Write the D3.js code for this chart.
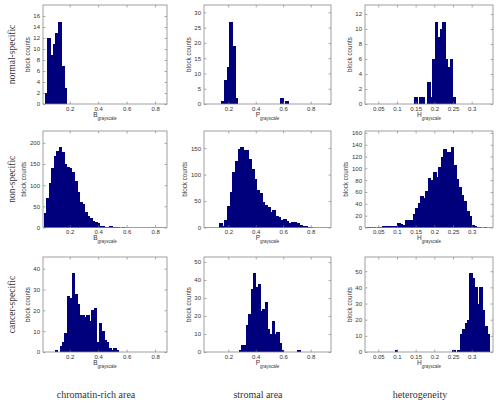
<!DOCTYPE html>
<html>
<head>
<meta charset="utf-8">
<script src="https://cdn.jsdelivr.net/npm/d3@7"></script>
<style>
  body { margin: 0; background: #fff; }
  svg { display: block; }
  .tick text { font-family: "Liberation Sans", Arial, sans-serif; font-size: 6px; fill: #333; }
  .tick line { stroke: #777; stroke-width: 0.6; }
  .ylab, .xlab { font-family: "Liberation Sans", Arial, sans-serif; fill: #333; }
  .rowlab, .collab { font-family: "Liberation Serif", "DejaVu Serif", serif; fill: #333; }
  .bar { shape-rendering: crispEdges; }
</style>
</head>
<body>
<div id="chart"></div>
<script>
// labels
var rowNames = ["normal-specific", "non-specific", "cancer-specific"];
var colNames = ["chromatin-rich area", "stromal area", "heterogeneity"];
var xSymbols = ["B", "P", "H"];

// tick labels per column / y tick step per panel
var xTicks = [[0.2, 0.4, 0.6, 0.8], [0.2, 0.4, 0.6, 0.8], [0.05, 0.1, 0.15, 0.2, 0.25, 0.3]];
var yTickSteps = [[2, 5, 2], [50, 50, 20], [10, 10, 10]];
var xDomains = [[0.012, 0.884], [0.023, 0.948], [0.0145, 0.357]];

// histogram bins: first bin edge, bin width, counts
var binStart = [[0.0235, 0.148, 0.1464], [0.0188, 0.132, 0.0196], [0.094, 0.278, 0.0946]];
var binWidth = [[0.019, 0.0195, 0.0068], [0.0176, 0.0194, 0.0068], [0.0172, 0.017, 0.00665]];

var countsNormalB = [2, 12, 9, 11, 13, 15, 7, 3];
var countsNormalP = [1, 8, 12, 27, 19, 2, 0, 0, 0, 0, 0, 0, 0, 0, 0, 0, 0, 0, 0, 0, 0, 0, 2, 0, 1];
var countsNormalH = [1, 0, 1, 1, 0, 3, 1, 6, 11, 9, 10, 11, 6, 5, 6, 1];

var countsNonB = [35, 70, 105, 140, 170, 180, 190, 178, 150, 142, 140, 132, 110, 85, 60, 55, 37, 28, 22, 16,
                  12, 10, 4, 3, 2, 2, 3, 2, 1, 1, 0, 1];
var countsNonP = [8, 3, 14, 40, 68, 105, 125, 148, 152, 146, 147, 130, 110, 92, 70, 65, 48, 42, 38, 30,
                  34, 22, 20, 15, 17, 13, 8, 10, 10, 8, 5, 3, 2, 1, 1];
var countsNonH = [1, 1, 1, 0, 1, 1, 3, 2, 3, 2, 3, 2, 7, 6, 5, 12, 13, 12, 23, 33, 42, 54, 50, 62, 83, 80,
                  94, 85, 102, 120, 132, 127, 128, 136, 105, 82, 68, 55, 44, 28, 20, 5, 2, 1, 1, 0, 1];

var countsCancerB = [1, 0, 3, 5, 9, 27, 26, 38, 28, 23, 18, 18, 17, 18, 15, 20, 21, 5, 14, 10, 6, 5, 2, 1, 2, 1];
var countsCancerP = [1, 4, 4, 15, 21, 35, 44, 36, 38, 23, 24, 28, 13, 10, 17, 10, 11, 5, 1, 0, 0, 0, 0, 0, 0, 1];
var countsCancerH = [1, 0, 0, 0, 0, 0, 0, 0, 0, 0, 0, 0, 0, 0, 0, 0, 0, 0, 0, 0, 0, 0, 0, 1, 0, 1,
                     11, 14, 18, 20, 49, 46, 40, 30, 40, 26, 16, 11];

var counts = [
  [countsNormalB, countsNormalP, countsNormalH],
  [countsNonB, countsNonP, countsNonH],
  [countsCancerB, countsCancerP, countsCancerH]
];

// layout
var width = 496, height = 405;
var colBox = [[43, 167], [204, 331], [365, 493]];
var rowBox = [[5, 104], [131, 227.5], [257, 352]];
var barColor = "#00007c";
var tickLen = 2.5;

var svg = d3.select("#chart").append("svg")
  .attr("width", width)
  .attr("height", height);

function drawPanel(r, c) {
  var data = counts[r][c].map(function(v, i) {
    return {x0: binStart[r][c] + i * binWidth[r][c], x1: binStart[r][c] + (i + 1) * binWidth[r][c], n: v};
  });
  var left = colBox[c][0], right = colBox[c][1];
  var top = rowBox[r][0], bottom = rowBox[r][1];

  var x = d3.scaleLinear().domain(xDomains[c]).range([left, right]);
  var yMax = 1.2 * d3.max(data, function(d) { return d.n; });
  var y = d3.scaleLinear().domain([0, yMax]).range([bottom, top]);
  var yt = d3.range(0, yMax, yTickSteps[r][c]);

  var g = svg.append("g").attr("class", "panel");

  // snap to whole pixels and overlap by one so neighbouring bars don't show seams
  g.selectAll(".bar")
    .data(data.filter(function(d) { return d.n > 0; }))
    .enter().append("rect")
      .attr("class", "bar")
      .attr("x", function(d) { return Math.round(x(d.x0)); })
      .attr("width", function(d) { return Math.round(x(d.x1)) - Math.round(x(d.x0)) + 1; })
      .attr("y", function(d) { return y(d.n); })
      .attr("height", function(d) { return y(0) - y(d.n); })
      .attr("fill", barColor);

  // inward ticks on all four sides, like matlab
  g.append("g")
    .attr("transform", "translate(0," + bottom + ")")
    .call(d3.axisBottom(x).tickValues(xTicks[c]).tickSize(-tickLen).tickPadding(2.5)
      .tickFormat(d3.format("~g")));
  g.append("g")
    .attr("transform", "translate(0," + top + ")")
    .call(d3.axisTop(x).tickValues(xTicks[c]).tickSize(-tickLen).tickFormat(""));
  var yl = g.append("g")
    .attr("transform", "translate(" + left + ",0)")
    .call(d3.axisLeft(y).tickValues(yt).tickSize(-tickLen).tickPadding(3));
  g.append("g")
    .attr("transform", "translate(" + right + ",0)")
    .call(d3.axisRight(y).tickValues(yt).tickSize(-tickLen).tickFormat(""));
  g.selectAll(".domain").remove();

  g.append("rect")
    .attr("x", left)
    .attr("y", top)
    .attr("width", right - left)
    .attr("height", bottom - top)
    .attr("fill", "none")
    .attr("stroke", "#888")
    .attr("stroke-width", 0.8);

  // x label with subscript
  var xl = g.append("text")
    .attr("class", "xlab")
    .attr("x", (left + right) / 2)
    .attr("y", bottom + 12.7)
    .attr("text-anchor", "middle");
  xl.append("tspan").attr("font-size", "6.5px").text(xSymbols[c]);
  xl.append("tspan").attr("font-size", "4.5px").attr("dy", 2.8).text("grayscale");

  // y label placed left of the tick labels
  var bb = yl.node().getBBox();
  g.append("text")
    .attr("class", "ylab")
    .attr("font-size", "6.3px")
    .attr("text-anchor", "middle")
    .attr("transform", "translate(" + (left + bb.x - 3.5) + "," + ((top + bottom) / 2) + ") rotate(-90)")
    .text("block counts");
}

for (var r = 0; r < 3; r++) {
  for (var c = 0; c < 3; c++) {
    drawPanel(r, c);
  }
}

// row titles
svg.selectAll(".rowlab")
  .data(rowNames)
  .enter().append("text")
    .attr("class", "rowlab")
    .attr("font-size", "9.5px")
    .attr("text-anchor", "middle")
    .attr("transform", function(d, i) {
      return "translate(15," + ((rowBox[i][0] + rowBox[i][1]) / 2) + ") rotate(-90)";
    })
    .text(function(d) { return d; });

// column titles
svg.selectAll(".collab")
  .data(colNames)
  .enter().append("text")
    .attr("class", "collab")
    .attr("font-size", "10px")
    .attr("text-anchor", "middle")
    .attr("x", function(d, i) { return [96, 258, 420][i]; })
    .attr("y", 398)
    .text(function(d) { return d; });
</script>
</body>
</html>
